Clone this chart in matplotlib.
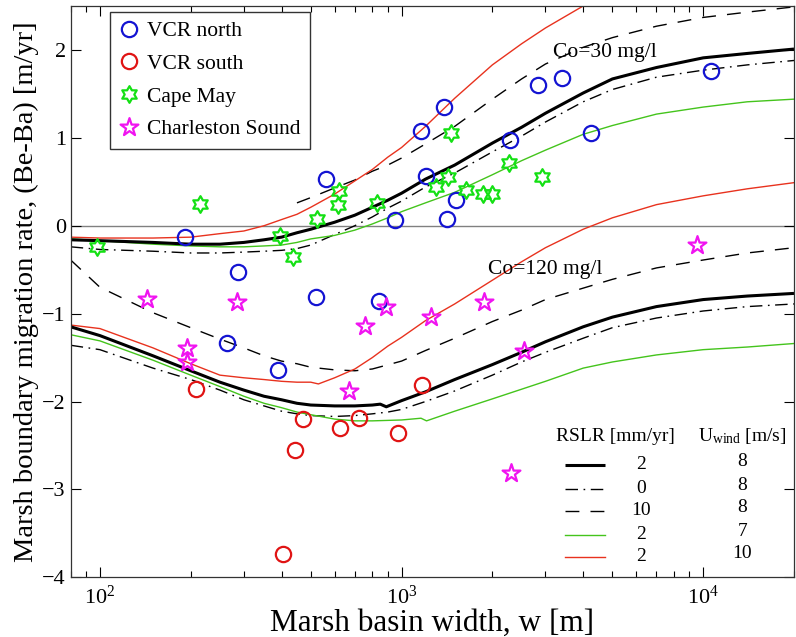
import numpy as np
import matplotlib
matplotlib.use('Agg')
import matplotlib.pyplot as plt
from matplotlib.path import Path
from matplotlib.ticker import LogLocator, LogFormatterMathtext, NullFormatter

plt.rcParams['font.family'] = ['Liberation Serif', 'DejaVu Serif']
plt.rcParams['mathtext.fontset'] = 'custom'
plt.rcParams['mathtext.rm'] = 'Liberation Serif'
plt.rcParams['mathtext.it'] = 'Liberation Serif:italic'
plt.rcParams['mathtext.bf'] = 'Liberation Serif:bold'
plt.rcParams['axes.unicode_minus'] = True

# ---------------- data ----------------
X_GRID = [80, 100, 150, 200, 250, 300, 350, 400, 450, 500, 600, 700, 800, 900, 1000,
          1200, 1500, 2000, 2500, 3000, 4000, 5000, 7000, 10000, 14000, 20000]

# Co = 30 mg/l model curves
c30_rslr2_u8 = [-0.16, -0.17, -0.19, -0.21, -0.21, -0.19, -0.16, -0.13, -0.08, -0.04, 0.04, 0.12, 0.21,
                0.29, 0.37, 0.53, 0.69, 0.94, 1.12, 1.28, 1.51, 1.67, 1.80, 1.91, 1.96, 2.01]
c30_rslr0_u8 = [-0.24, -0.27, -0.29, -0.31, -0.31, -0.30, -0.29, -0.28, -0.26, -0.22, -0.10, 0.00, 0.10,
                0.20, 0.28, 0.44, 0.60, 0.84, 1.02, 1.18, 1.41, 1.55, 1.69, 1.77, 1.83, 1.88]
c30_rslr10_x = [450, 500, 600, 700, 800, 900, 1000, 1200, 1500, 2000, 2500, 3000, 4000, 5000, 7000,
                10000, 14000, 20000]
c30_rslr10_u8 = [0.26, 0.32, 0.43, 0.52, 0.62, 0.69, 0.77, 0.93, 1.13, 1.44, 1.67, 1.84, 2.03, 2.14,
                 2.27, 2.37, 2.43, 2.49]
c30_rslr2_u7 = [-0.15, -0.17, -0.21, -0.23, -0.24, -0.24, -0.23, -0.22, -0.19, -0.15, -0.11, -0.05, 0.02,
                0.09, 0.16, 0.26, 0.38, 0.58, 0.74, 0.86, 1.04, 1.14, 1.27, 1.35, 1.41, 1.44]
c30_rslr2_u10_x = [80, 100, 150, 200, 250, 300, 350, 400, 450, 500, 600, 700, 800, 900, 1000,
                   1200, 1500, 2000, 2500, 3000, 4000, 5000]
c30_rslr2_u10 = [-0.13, -0.14, -0.14, -0.13, -0.09, -0.06, 0.00, 0.07, 0.13, 0.21, 0.36, 0.51, 0.64,
                 0.78, 0.89, 1.13, 1.45, 1.83, 2.07, 2.25, 2.50, 2.65]

# Co = 120 mg/l model curves
c120_rslr2_u8_x = [80, 100, 150, 200, 250, 300, 350, 400, 450, 500, 600, 700, 800, 850, 890, 1000,
                   1200, 1500, 2000, 2500, 3000, 4000, 5000, 7000, 10000, 14000, 20000]
c120_rslr2_u8 = [-1.15, -1.25, -1.48, -1.65, -1.78, -1.87, -1.94, -1.98, -2.02, -2.04, -2.05, -2.05,
                 -2.04, -2.03, -2.06, -1.99, -1.89, -1.75, -1.58, -1.44, -1.32, -1.15, -1.04, -0.92,
                 -0.84, -0.80, -0.77]
c120_rslr0_u8 = [-1.36, -1.41, -1.62, -1.75, -1.87, -1.98, -2.05, -2.11, -2.14, -2.16, -2.17, -2.16,
                 -2.14, -2.12, -2.09, -2.00, -1.88, -1.70, -1.55, -1.44, -1.28, -1.16, -1.05, -0.97,
                 -0.92, -0.89]
c120_rslr10_x = [80, 100, 150, 200, 250, 300, 350, 400, 450, 500, 600, 700, 800, 1000, 1200, 1500,
                 2000, 2500, 3000, 4000, 5000, 7000, 10000, 14000, 20000]
c120_rslr10_u8 = [-0.39, -0.70, -0.99, -1.16, -1.29, -1.39, -1.48, -1.54, -1.57, -1.61, -1.64, -1.65,
                  -1.63, -1.54, -1.42, -1.28, -1.09, -0.96, -0.84, -0.71, -0.61, -0.48, -0.39, -0.31,
                  -0.25]
c120_rslr2_u7_x = [80, 100, 150, 200, 250, 300, 350, 400, 450, 500, 600, 700, 800, 1000, 1160, 1210,
                   1500, 2000, 2500, 3000, 4000, 5000, 7000, 10000, 14000, 20000]
c120_rslr2_u7 = [-1.24, -1.31, -1.53, -1.70, -1.83, -1.94, -2.02, -2.07, -2.12, -2.15, -2.20, -2.22,
                 -2.22, -2.21, -2.19, -2.22, -2.11, -1.97, -1.86, -1.77, -1.62, -1.55, -1.47, -1.41,
                 -1.38, -1.34]
c120_rslr2_u10_x = [80, 100, 150, 200, 250, 300, 350, 400, 450, 500, 530, 600, 700, 800, 900, 1000,
                    1200, 1500, 2000, 2500, 3000, 4000, 5000, 7000, 10000, 14000, 20000]
c120_rslr2_u10 = [-1.13, -1.17, -1.39, -1.57, -1.70, -1.73, -1.75, -1.77, -1.78, -1.78, -1.80, -1.73,
                  -1.63, -1.50, -1.37, -1.27, -1.08, -0.89, -0.62, -0.41, -0.25, -0.04, 0.09, 0.24,
                  0.34, 0.42, 0.49]

# field observations
vcr_north_w = [192, 288, 563, 522, 845, 263, 390, 953, 1416, 1517, 1207, 1161, 1386, 2290, 2833,
               3403, 4248, 10590]
vcr_north_r = [-0.13, -0.53, 0.53, -0.81, -0.86, -1.33, -1.64, 0.07, 0.08, 0.29, 0.57, 1.08, 1.35,
               0.97, 1.60, 1.68, 1.05, 1.76]
vcr_south_w = [208, 470, 442, 405, 627, 725, 975, 1169]
vcr_south_r = [-1.86, -2.20, -2.55, -3.73, -2.30, -2.19, -2.36, -1.81]
cape_may_w = [98, 214, 394, 435, 526, 622, 617, 829, 1302, 1428, 1459, 1636, 1864, 1995, 2271, 2924]
cape_may_r = [-0.24, 0.25, -0.12, -0.36, 0.08, 0.39, 0.24, 0.26, 0.44, 0.56, 1.06, 0.41, 0.36, 0.36,
              0.71, 0.55]
charleston_w = [143, 284, 194, 194, 759, 891, 1256, 667, 1879, 2553, 2311, 9530]
charleston_r = [-0.83, -0.87, -1.39, -1.55, -1.14, -0.92, -1.04, -1.88, -0.87, -1.43, -2.81, -0.22]

legend_labels = ['VCR north', 'VCR south', 'Cape May', 'Charleston Sound']
table_rslr = ['2', '0', '10', '2', '2']
table_uwind = ['8', '8', '8', '7', '10']

# ---------------- styles ----------------
BLUE = '#1414d2'
RED = '#e01414'
GREEN = '#14e014'
MAGENTA = '#f014f0'
LGREEN = '#44c41c'
LRED = '#e8321e'

hexagram = Path.unit_regular_star(6, 0.577)
pentagram = Path.unit_regular_star(5, 0.382)

fig = plt.figure(figsize=(7.96, 6.37), dpi=100)
ax = fig.add_axes([0.0888, 0.0937, 0.9087, 0.8969])
ax.set_xscale('log')
ax.set_xlim(80, 20000)
ax.set_ylim(-4, 2.5)

ax.axhline(0, color='#808080', lw=1.0, zorder=1)

solid_kw = dict(color='black', lw=2.2, solid_capstyle='butt')
dashdot_kw = dict(color='black', lw=1.0, linestyle=(0, (9, 4, 1.2, 4)))
dash_kw = dict(color='black', lw=1.0, linestyle=(0, (10, 8)))
green_kw = dict(color=LGREEN, lw=1.0)
red_kw = dict(color=LRED, lw=1.0)

# Co=30
ax.plot(X_GRID, c30_rslr0_u8, **dashdot_kw)
ax.plot(c30_rslr10_x, c30_rslr10_u8, **dash_kw)
ax.plot(X_GRID, c30_rslr2_u7, **green_kw)
ax.plot(c30_rslr2_u10_x, c30_rslr2_u10, **red_kw)
ax.plot(X_GRID, c30_rslr2_u8, **solid_kw)
# Co=120
ax.plot(X_GRID, c120_rslr0_u8, **dashdot_kw)
ax.plot(c120_rslr10_x, c120_rslr10_u8, **dash_kw)
ax.plot(c120_rslr2_u7_x, c120_rslr2_u7, **green_kw)
ax.plot(c120_rslr2_u10_x, c120_rslr2_u10, **red_kw)
ax.plot(c120_rslr2_u8_x, c120_rslr2_u8, **solid_kw)

h1, = ax.plot(vcr_north_w, vcr_north_r, 'o', ms=11, mfc='none', mec=BLUE, mew=1.6, ls='none', zorder=5)
h2, = ax.plot(vcr_south_w, vcr_south_r, 'o', ms=11, mfc='none', mec=RED, mew=1.6, ls='none', zorder=5)
h3, = ax.plot(cape_may_w, cape_may_r, marker=hexagram, ms=12, mfc='none', mec=GREEN, mew=1.6, ls='none', zorder=5)
h4, = ax.plot(charleston_w, charleston_r, marker=pentagram, ms=13.5, mfc='none', mec=MAGENTA, mew=1.6, ls='none', zorder=5)

leg = ax.legend([h1, h2, h3, h4], legend_labels, loc='upper left', bbox_to_anchor=(0.055, 0.99),
                fontsize=15.5, frameon=True, fancybox=False, edgecolor='#333333', framealpha=1,
                handlelength=0.8, handletextpad=0.45, labelspacing=0.58, borderpad=0.45,
                borderaxespad=0.0)
leg.get_frame().set_linewidth(1.0)

ax.text(4721, 1.97, 'Co=30 mg/l', fontsize=15.5, ha='center', va='center')
ax.text(2993, -0.50, 'Co=120 mg/l', fontsize=15.5, ha='center', va='center')

# key table (axes fraction)
ax.text(0.7526, 0.2473, 'RSLR [mm/yr]', transform=ax.transAxes, fontsize=14, ha='center', va='center')
ax.text(0.928, 0.2473, r'U$_{\rm wind}$ [m/s]', transform=ax.transAxes, fontsize=14, ha='center', va='center')
row_y = [0.1966, 0.1546, 0.1161, 0.0741, 0.0356]
row_kw = [solid_kw, dashdot_kw, dash_kw, green_kw, red_kw]
for yy, kw, r, u in zip(row_y, row_kw, table_rslr, table_uwind):
    ax.plot([0.6834, 0.7387], [yy, yy], transform=ax.transAxes, **kw)
    ax.text(0.789, yy, r, transform=ax.transAxes, fontsize=14, ha='center', va='center')
    ax.text(0.9285, yy + 0.006, u, transform=ax.transAxes, fontsize=14, ha='center', va='center')

ax.set_yticks([-4, -3, -2, -1, 0, 1, 2])
ax.xaxis.set_major_locator(LogLocator(base=10, numticks=10))
ax.xaxis.set_major_formatter(LogFormatterMathtext())
ax.xaxis.set_minor_locator(LogLocator(base=10, subs=np.arange(2, 10), numticks=20))
ax.xaxis.set_minor_formatter(NullFormatter())
ax.tick_params(which='both', direction='in', top=True, right=True, labelsize=16, colors='black')
ax.tick_params(which='major', length=7, width=0.8)
ax.tick_params(which='minor', length=4, width=0.8)
ax.tick_params(axis='x', pad=6)
for sp in ax.spines.values():
    sp.set_linewidth(0.9)
    sp.set_color('#333333')

ax.set_xlabel('Marsh basin width, w [m]', fontsize=22.5, labelpad=0)
ax.set_ylabel('Marsh boundary migration rate, (Be-Ba) [m/yr]', fontsize=20.5, labelpad=2)

fig.savefig('out.png', dpi=100)
